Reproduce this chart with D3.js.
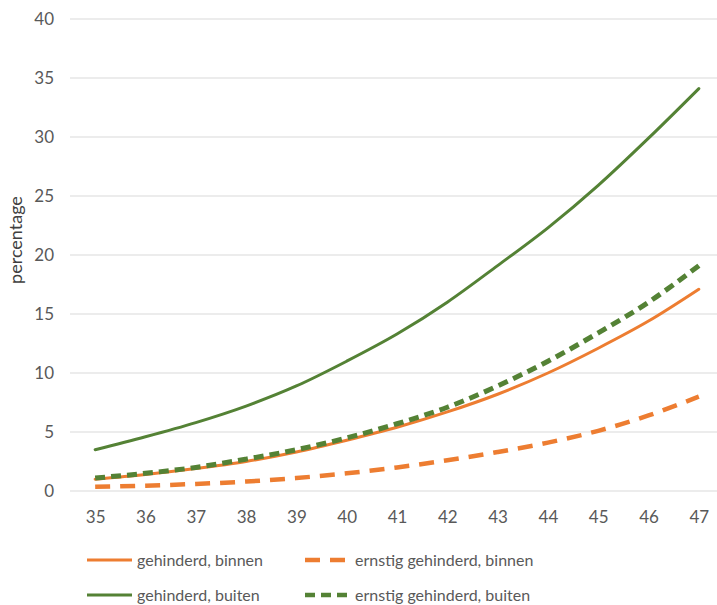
<!DOCTYPE html>
<html><head><meta charset="utf-8">
<script src="https://cdn.jsdelivr.net/npm/d3@7"></script>
<style>body{margin:0;background:#fff}text{font-family:Lato,"Open Sans",sans-serif}</style>
</head><body><svg id="c" width="717" height="605"></svg>
<script>
const ages = [35,36,37,38,39,40,41,42,43,44,45,46,47];
const yTicks = [0,5,10,15,20,25,30,35,40];
const gehinderdBinnen = [1.0,1.4,1.9,2.5,3.3,4.3,5.4,6.7,8.2,10.0,12.1,14.4,17.1];
const ernstigBinnen = [0.35,0.45,0.6,0.8,1.1,1.5,2.0,2.6,3.3,4.1,5.1,6.4,8.0];
const gehinderdBuiten = [3.5,4.6,5.8,7.2,8.9,11.0,13.3,16.0,19.1,22.3,25.9,29.9,34.1];
const ernstigBuiten = [1.1,1.5,2.0,2.7,3.5,4.5,5.7,7.1,8.9,11.0,13.4,16.0,19.1];
const seriesNames = ["gehinderd, binnen","ernstig gehinderd, binnen","gehinderd, buiten","ernstig gehinderd, buiten"];

const orange="#ED7D31", green="#548235";
const series = [
  {name:seriesNames[0], vals:gehinderdBinnen, color:orange, w:3, dash:null},
  {name:seriesNames[1], vals:ernstigBinnen, color:orange, w:4.5, dash:"15,10"},
  {name:seriesNames[2], vals:gehinderdBuiten, color:green, w:3, dash:null},
  {name:seriesNames[3], vals:ernstigBuiten, color:green, w:5, dash:"10,6"}
];

const svg = d3.select("#c");
const x = d3.scalePoint().domain(ages).range([70,724]).padding(0.5);
const y = d3.scaleLinear().domain([0,40]).range([491,19]);

svg.append("g").selectAll("line").data(yTicks).join("line")
  .attr("x1",70).attr("x2",724).attr("y1",d=>y(d)).attr("y2",d=>y(d))
  .attr("stroke","#d9d9d9").attr("stroke-width",1);

const ya = svg.append("g").attr("transform","translate(58,0)")
  .call(d3.axisLeft(y).tickValues(yTicks).tickSize(0).tickPadding(4));
ya.select(".domain").remove();
ya.selectAll("text").attr("fill","#595959").style("font-size","17px");

const xa = svg.append("g").attr("transform","translate(0,508)")
  .call(d3.axisBottom(x).tickSize(0).tickPadding(3));
xa.select(".domain").remove();
xa.selectAll("text").attr("fill","#595959").style("font-size","17px");

svg.append("text").attr("transform","translate(22,240) rotate(-90)")
  .attr("text-anchor","middle").attr("fill","#404040").style("font-size","18px").text("percentage");

const line = d3.line().x((d,i)=>x(ages[i])).y(d=>y(d)).curve(d3.curveMonotoneX);
svg.append("g").selectAll("path").data(series).join("path")
  .attr("d",d=>line(d.vals)).attr("fill","none")
  .attr("stroke",d=>d.color).attr("stroke-width",d=>d.w)
  .attr("stroke-dasharray",d=>d.dash).attr("stroke-linejoin","round")
  .attr("stroke-linecap",d=>d.dash?"butt":"round");

const lpos = [[87,560],[305,560],[87,595],[305,595]];
const lg = svg.append("g").selectAll("g").data(series).join("g")
  .attr("transform",(d,i)=>`translate(${lpos[i][0]},${lpos[i][1]})`);
lg.append("line").attr("x1",0).attr("x2",45).attr("y1",0).attr("y2",0)
  .attr("stroke",d=>d.color).attr("stroke-width",d=>d.dash?4.5:3)
  .attr("stroke-dasharray",d=>d.dash);
lg.append("text").attr("x",50).attr("y",0).attr("dy","0.35em")
  .attr("fill","#595959").style("font-size","16px").text(d=>d.name);
</script></body></html>
